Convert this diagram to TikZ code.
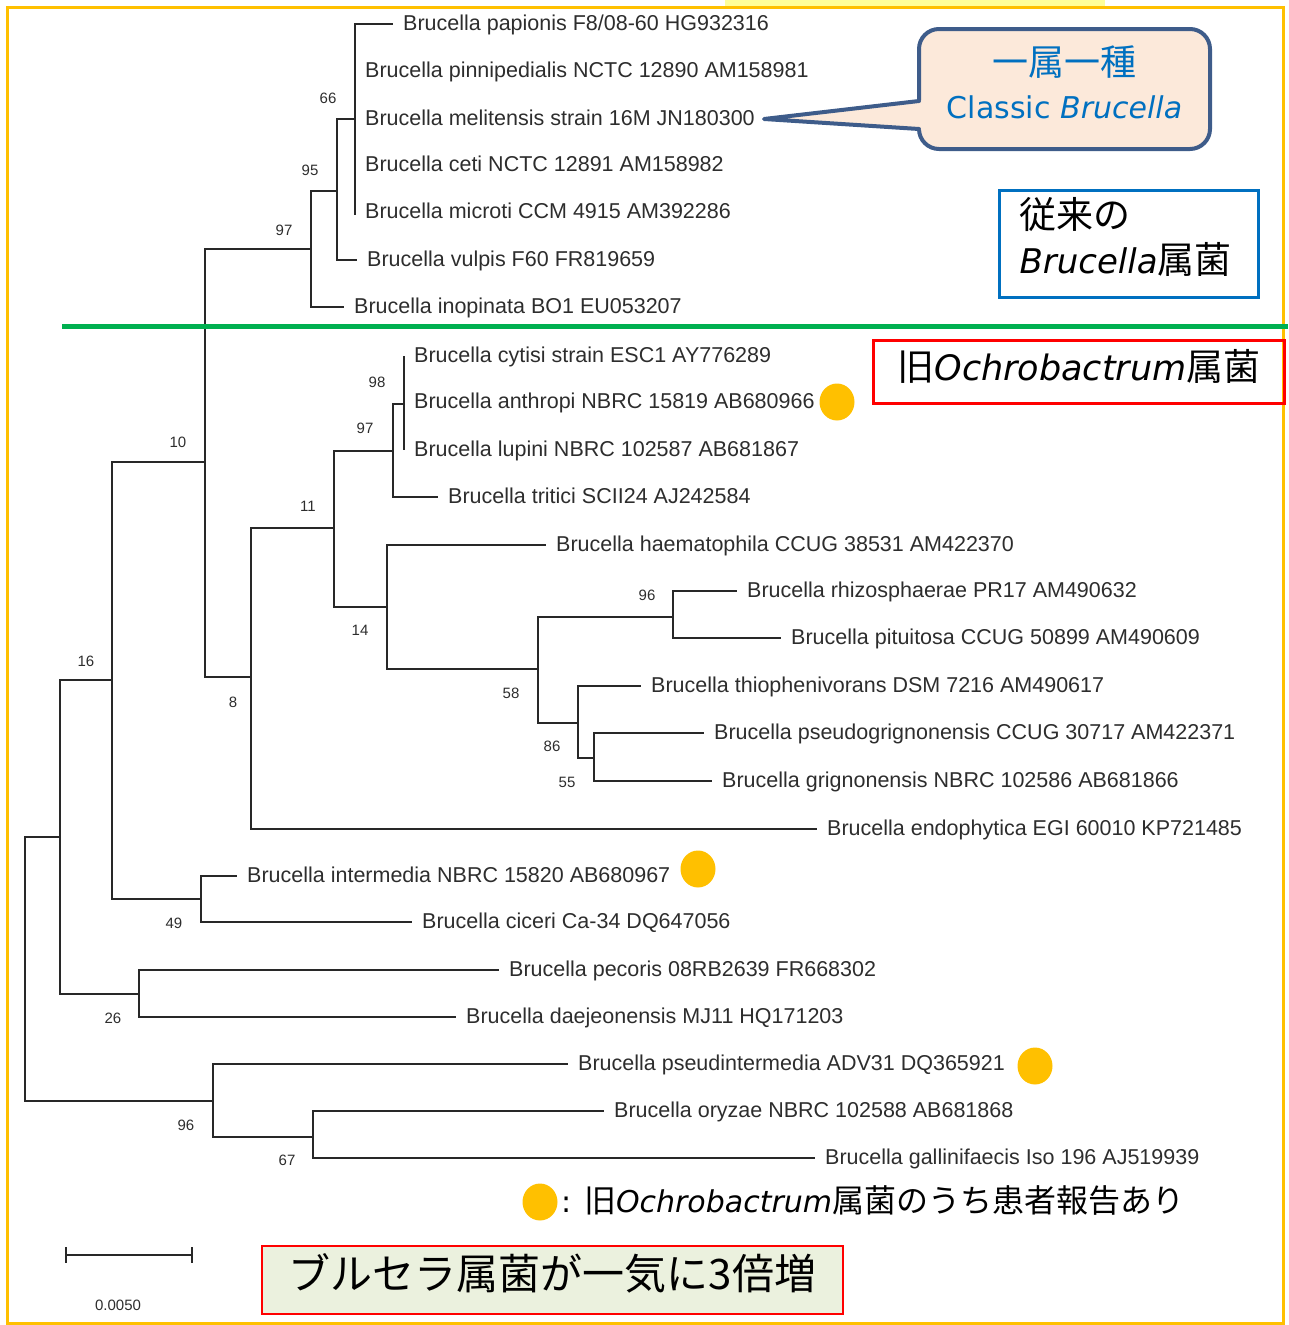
\documentclass[tikz,border=0pt]{standalone}
\usepackage{fontspec}
\usetikzlibrary{shapes.geometric}
\setmainfont{Liberation Sans}
\newfontfamily\jpfont{Noto Sans CJK JP}
\newfontfamily\latfont{DejaVu Sans}[ItalicFont={DejaVu Sans Oblique}]
\newcommand{\jtext}[2]{{\jpfont\fontsize{#1}{#1}\selectfont #2}}
\newcommand{\lift}[1]{\rule[-#1pt]{0pt}{0pt}}

\definecolor{treeline}{RGB}{40,40,40}
\definecolor{treetext}{RGB}{45,45,45}
\definecolor{markyellow}{RGB}{255,192,0}
\definecolor{paleyellow}{RGB}{255,255,153}
\definecolor{splitgreen}{RGB}{0,176,80}
\definecolor{callblue}{RGB}{0,112,192}
\definecolor{callrim}{RGB}{62,92,138}
\definecolor{callfill}{RGB}{252,233,218}
\definecolor{boxfill}{RGB}{235,241,222}

\tikzset{
  leaf/.style={anchor=west, inner xsep=10pt, inner ysep=0pt, text height=16pt, text depth=2.5pt,
    text=treetext, font=\fontsize{21.5}{24}\selectfont},
  boot/.style={inner sep=0pt, text=treetext, font=\fontsize{15}{16}\selectfont},
  branch/.style={draw=treeline, line width=2pt},
  dot/.style={ellipse, fill=markyellow, minimum width=35pt, minimum height=37pt, inner sep=0pt},
}

\begin{document}
\begin{tikzpicture}[x=1pt,y=1pt,yscale=-1]
\useasboundingbox (0,0) rectangle (1288,1325);

%frame
\fill[paleyellow] (725,0) rectangle (1105,6);
\draw[markyellow, line width=3pt] (7,7) rectangle (1283,1323);

%inner nodes of the tree
\coordinate (root) at (25,969);
\coordinate (nA) at (60,837);
\coordinate (nB) at (112,680);
\coordinate (nC) at (139,994);
\coordinate (nD) at (205,462);
\coordinate (nE) at (311,249);
\coordinate (nG) at (337,191);
\coordinate (nH) at (355,119);
\coordinate (nF) at (251,677);
\coordinate (nI) at (334,528);
\coordinate (nJ) at (393,451);
\coordinate (nL) at (404,404);
\coordinate (nK) at (387,607);
\coordinate (nM) at (538,669);
\coordinate (nN) at (673,617);
\coordinate (nO) at (578,723);
\coordinate (nP) at (594,758);
\coordinate (n49) at (201,899);
\coordinate (nQ) at (213,1101);
\coordinate (nR) at (313,1137);

%leaves
\node[leaf] (papionis) at (393,24) {Brucella papionis F8/08-60 HG932316};
\node[leaf] (pinnipedialis) at (355,71) {Brucella pinnipedialis NCTC 12890 AM158981};
\node[leaf] (melitensis) at (355,119) {Brucella melitensis strain 16M JN180300};
\node[leaf] (ceti) at (355,165) {Brucella ceti NCTC 12891 AM158982};
\node[leaf] (microti) at (355,212) {Brucella microti CCM 4915 AM392286};
\node[leaf] (vulpis) at (357,260) {Brucella vulpis F60 FR819659};
\node[leaf] (inopinata) at (344,307) {Brucella inopinata BO1 EU053207};
\node[leaf] (cytisi) at (404,356) {Brucella cytisi strain ESC1 AY776289};
\node[leaf] (anthropi) at (404,402) {Brucella anthropi NBRC 15819 AB680966};
\node[leaf] (lupini) at (404,450) {Brucella lupini NBRC 102587 AB681867};
\node[leaf] (tritici) at (438,497) {Brucella tritici SCII24 AJ242584};
\node[leaf] (haematophila) at (546,545) {Brucella haematophila CCUG 38531 AM422370};
\node[leaf] (rhizosphaerae) at (737,591) {Brucella rhizosphaerae PR17 AM490632};
\node[leaf] (pituitosa) at (781,638) {Brucella pituitosa CCUG 50899 AM490609};
\node[leaf] (thiophenivorans) at (641,686) {Brucella thiophenivorans DSM 7216 AM490617};
\node[leaf] (pseudogrignonensis) at (704,733) {Brucella pseudogrignonensis CCUG 30717 AM422371};
\node[leaf] (grignonensis) at (712,781) {Brucella grignonensis NBRC 102586 AB681866};
\node[leaf] (endophytica) at (817,829) {Brucella endophytica EGI 60010 KP721485};
\node[leaf] (intermedia) at (237,876) {Brucella intermedia NBRC 15820 AB680967};
\node[leaf] (ciceri) at (412,922) {Brucella ciceri Ca-34 DQ647056};
\node[leaf] (pecoris) at (499,970) {Brucella pecoris 08RB2639 FR668302};
\node[leaf] (daejeonensis) at (456,1017) {Brucella daejeonensis MJ11 HQ171203};
\node[leaf] (pseudintermedia) at (568,1064) {Brucella pseudintermedia ADV31 DQ365921};
\node[leaf] (oryzae) at (604,1111) {Brucella oryzae NBRC 102588 AB681868};
\node[leaf] (gallinifaecis) at (815,1158) {Brucella gallinifaecis Iso 196 AJ519939};

%branches
\foreach \p/\c in {root/nA, root/nQ, nA/nB, nA/nC, nB/nD, nB/n49, nD/nE, nD/nF,
    nE/nG, nE/inopinata, nG/nH, nG/vulpis, nH/papionis, nH/pinnipedialis, nH/melitensis,
    nH/ceti, nH/microti, nF/nI, nF/endophytica, nI/nJ, nI/nK, nJ/nL, nJ/tritici,
    nL/cytisi, nL/anthropi, nL/lupini, nK/haematophila, nK/nM, nM/nN, nM/nO,
    nN/rhizosphaerae, nN/pituitosa, nO/thiophenivorans, nO/nP, nP/pseudogrignonensis,
    nP/grignonensis, n49/intermedia, n49/ciceri, nC/pecoris, nC/daejeonensis,
    nQ/pseudintermedia, nQ/nR, nR/oryzae, nR/gallinifaecis}
  \draw[branch] (\p) |- (\c);
\draw[branch] (nH) -- (355,215);

%bootstrap values
\node[boot] (b66) at (328,98) {66};
\node[boot] (b95) at (310,170) {95};
\node[boot] (b97a) at (284,230) {97};
\node[boot] (b10) at (178,442) {10};
\node[boot] (b16) at (86,661) {16};
\node[boot] (b8) at (233,702) {8};
\node[boot] (b11) at (308,506) {11};
\node[boot] (b98) at (377,382) {98};
\node[boot] (b97b) at (365,428) {97};
\node[boot] (b14) at (360,630) {14};
\node[boot] (b96a) at (647,595) {96};
\node[boot] (b58) at (511,693) {58};
\node[boot] (b86) at (552,746) {86};
\node[boot] (b55) at (567,782) {55};
\node[boot] (b49) at (174,923) {49};
\node[boot] (b26) at (113,1018) {26};
\node[boot] (b96b) at (186,1125) {96};
\node[boot] (b67) at (287,1160) {67};

%scale bar
\coordinate (sbl) at (66,1255);
\coordinate (sbr) at (192,1255);
\draw[branch] (sbl) -- (sbr);
\draw[branch] (66,1247) -- (66,1263);
\draw[branch] (192,1247) -- (192,1263);
\node[boot] (sblabel) at (118,1305) {0.0050};

%patient report marks
\node[dot] (dotanthropi) at (837,402) {};
\node[dot] (dotintermedia) at (698,869) {};
\node[dot] (dotpseudint) at (1035,1066) {};

%split line
\coordinate (gl) at (62,326);
\coordinate (gr) at (1288,326);
\draw[splitgreen, line width=5pt] (gl) -- (gr);

%callout
\node[draw=callrim, fill=callfill, line width=4pt, rounded corners=20pt, minimum width=291pt,
  minimum height=120pt, inner sep=0pt, align=center, text=callblue,
  font=\latfont\fontsize{30}{43}\selectfont] (classic) at (1064.5,89)
  {\jtext{36}{一属一種}\\Classic \textit{Brucella}\lift{13}};
\coordinate (calltip) at (764,119);
\coordinate (tailtop) at (919,101);
\coordinate (tailbot) at (919,129);
\fill[callfill] (924,100) -- (calltip) -- (924,130) -- cycle;
\draw[callrim, line width=4pt, line join=round, line cap=round] (tailtop) -- (calltip) -- (tailbot);

%group boxes
\node[draw=callblue, line width=3pt, minimum width=259pt, minimum height=107pt, inner xsep=20pt,
  align=left, text width=219pt, font=\latfont\fontsize{34}{45}\selectfont] (oldbrucella) at (1129,244)
  {\jtext{37}{従来の}\\\textit{Brucella}\jtext{37}{属菌}\lift{18}};
\node[draw=red, line width=3pt, minimum width=411pt, minimum height=63pt,
  font=\latfont\fontsize{35}{40}\selectfont] (oldochro) at (1079,372)
  {\jtext{37}{旧}\textit{Ochrobactrum}\jtext{37}{属菌}\lift{14}};

%legend
\node[dot] (legenddot) at (540,1202) {};
\node[anchor=west, inner sep=0pt, font=\latfont\fontsize{30}{36}\selectfont] (legend) at (561,1200)
  {: \jtext{32}{旧}\textit{Ochrobactrum}\jtext{32}{属菌のうち患者報告あり}};

%summary
\node[draw=red, line width=2pt, fill=boxfill, minimum width=581pt, minimum height=68pt] (summary)
  at (552.5,1280) {\jtext{42}{ブルセラ属菌が一気に3倍増}\lift{18}};
\end{tikzpicture}
\end{document}
